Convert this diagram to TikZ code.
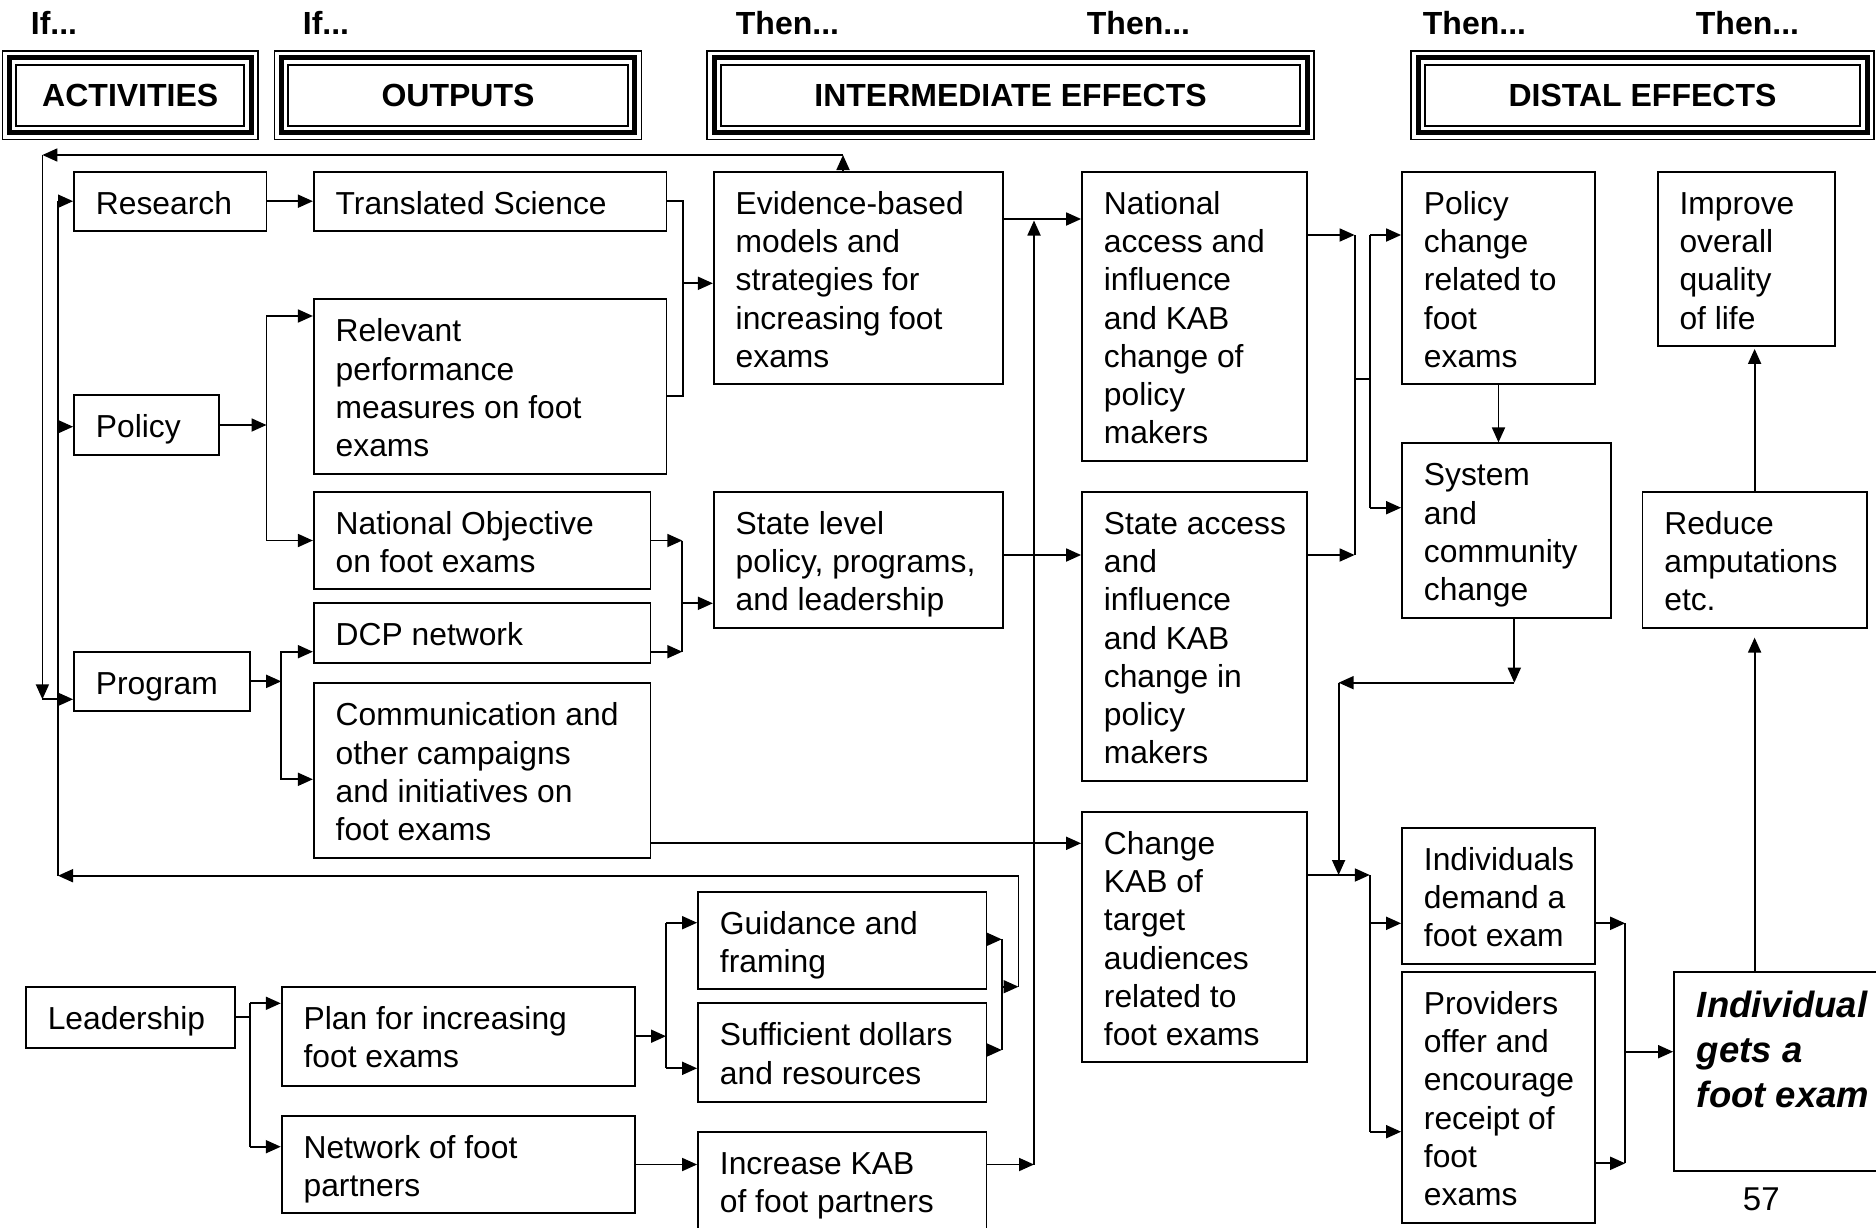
\documentclass[tikz,border=0pt]{standalone}
\usepackage{fontspec}
\setmainfont{Liberation Sans}
\usetikzlibrary{arrows.meta,fit}

\newcommand{\bodyf}{\fontsize{31.8}{38.3}\selectfont}
\newcommand{\headf}{\fontsize{32}{38}\selectfont\bfseries}
\newcommand{\keyf}{\fontsize{36.5}{45}\selectfont\bfseries\itshape}

% plain box with top-left text: name, x1, y1, x2, y2, text
\newcommand{\bx}[6]{%
  \node[box, fit={(#2,#3) (#4,#5)}] (#1) {};
  \node[txt] (#1-t) at (#2+21,#3+14.7) {\strut #6};
}
% column heading with a triple frame: name, x1, y1, x2, y2, text
\newcommand{\hd}[6]{%
  \node[box, line width=1.5pt, fit={(#2,#3) (#4,#5)}] (#1) {};
  \draw[line width=5pt] (#2+7,#3+7) rectangle (#4-7,#5-7);
  \draw[line width=2pt] (#2+13.7,#3+13.7) rectangle (#4-13.7,#5-13.7);
  \node[hdtxt] (#1-t) at (#1.center) {#6};
}

\begin{document}
\begin{tikzpicture}[x=1pt,y=-1pt,line width=1.8pt,
  box/.style={draw, rectangle, inner sep=0pt, line width=1.8pt},
  txt/.style={anchor=north west, inner sep=0pt, align=left, font=\bodyf},
  hdtxt/.style={inner sep=0pt, font=\headf},
  cue/.style={anchor=base west, inner sep=0pt, font=\headf},
  arr/.style={-{Triangle[length=15pt,width=13pt]}}]

\useasboundingbox (0,0) rectangle (1876,1228);
\fill[white] (0,0) rectangle (1876,1228);
\clip (0,0) rectangle (1876,1228);

% ---------- column cues and headings ----------
\node[cue] (c1) at (30,35) {If...};
\node[cue] (c2) at (302,35) {If...};
\node[cue] (c3) at (735,35) {Then...};
\node[cue] (c4) at (1086,35) {Then...};
\node[cue] (c5) at (1422,35) {Then...};
\node[cue] (c6) at (1695,35) {Then...};

\hd{act}{2.5}{51}{258}{139.5}{ACTIVITIES}
\hd{outp}{274.5}{51}{641.5}{139.5}{OUTPUTS}
\hd{inter}{707}{51}{1314}{139.5}{INTERMEDIATE EFFECTS}
\hd{dist}{1411}{51}{1874}{139.5}{DISTAL EFFECTS}

% ---------- activities ----------
\bx{res}{74}{171.7}{266.5}{230.7}{Research}
\bx{pol}{74}{395}{219}{455}{Policy}
\bx{prog}{74}{651.7}{250}{711}{Program}
\bx{lead}{25.9}{986.7}{234.8}{1047.7}{Leadership}

% ---------- outputs ----------
\bx{tsci}{313.8}{171.7}{666.5}{230.7}{Translated Science}
\bx{relev}{313.8}{299.3}{666.5}{474.3}{Relevant\\performance\\measures on foot\\exams}
\bx{natobj}{313.8}{491.7}{650.4}{589.3}{National Objective\\on foot exams}
\bx{dcp}{313.8}{603.3}{650.4}{663.3}{DCP network}
\bx{comm}{313.8}{683.3}{650.4}{858.3}{Communication and\\other campaigns\\and initiatives on\\foot exams}
\bx{plan}{281.7}{986.7}{634.8}{1085.7}{Plan for increasing\\foot exams}
\bx{netw}{281.7}{1115.7}{634.8}{1213.3}{Network of foot\\partners}
\bx{guid}{698}{891.7}{986.5}{989.3}{Guidance and\\framing}
\bx{suff}{698}{1003.3}{986.5}{1101.7}{Sufficient dollars\\and resources}
\bx{inckab}{698}{1131.7}{986.5}{1250}{Increase KAB\\of foot partners}

% ---------- intermediate effects ----------
\bx{ev}{713.8}{171.7}{1003}{384.3}{Evidence-based\\models and\\strategies for\\increasing foot\\exams}
\bx{stlev}{713.8}{491.7}{1002.7}{627.7}{State level\\policy, programs,\\and leadership}
\bx{natacc}{1082}{171.7}{1306.7}{460.7}{National\\access and\\influence\\and KAB\\change of\\policy\\makers}
\bx{stacc}{1082}{491.7}{1306.7}{781}{State access\\and\\influence\\and KAB\\change in\\policy\\makers}
\bx{chkab}{1082}{811.7}{1306.7}{1062.3}{Change\\KAB of\\target\\audiences\\related to\\foot exams}

% ---------- distal effects ----------
\bx{polch}{1402}{171.7}{1595}{384.3}{Policy\\change\\related to\\foot\\exams}
\bx{sys}{1402}{443.3}{1610.9}{618.3}{System\\and\\community\\change}
\bx{indem}{1402}{827.7}{1595}{964}{Individuals\\demand a\\foot exam}
\bx{prov}{1402}{971.7}{1595}{1222.7}{Providers\\offer and\\encourage\\receipt of\\foot\\exams}
\bx{imp}{1657.6}{171.7}{1834.9}{346}{Improve\\overall\\quality\\of life}
\bx{red}{1642.4}{491.7}{1866.8}{627.7}{Reduce\\amputations\\etc.}
\node[box, fit={(1674,971.7) (1900,1171)}] (indiv) {};
\node[txt, font=\keyf] (indiv-t) at (1696,985.2) {\strut Individual\\gets a\\foot exam};

\node[anchor=base west, inner sep=0pt, font=\fontsize{33}{38}\selectfont] (pg) at (1742,1210) {57};

% ---------- bus lines ----------
\coordinate (pbx) at (266.5,0);
\coordinate (gbx) at (281.2,0);
\coordinate (tbx) at (683,0);
\coordinate (sbx) at (682.3,0);
\coordinate (kbx) at (1034,0);
\coordinate (dbx) at (1354.6,0);
\coordinate (ebx) at (1369.8,0);
\coordinate (hbx) at (1625.2,0);
\coordinate (lbx) at (250,0);
\coordinate (mbx) at (666,0);
\coordinate (nbx) at (1001.8,0);

% research / policy / program
\draw[arr] (res.east) -- (tsci.west);
\draw[arr] (pol.east) -- (pol.east -| pbx);
\draw[arr] (pol.east -| pbx) |- (relev.west |- 0,316);
\draw[arr] (pol.east -| pbx) |- (natobj.west);
\draw[arr] (prog.east) -- (prog.east -| gbx);
\draw[arr] (prog.east -| gbx) |- (dcp.west |- 0,651.7);
\draw[arr] (prog.east -| gbx) |- (comm.west |- 0,779.3);

% outputs into intermediate effects
\draw (tsci.east) -| (tbx |- 0,395.7) -- (relev.east |- 0,395.7);
\draw[arr] (tbx |- 0,283.3) -- (ev.west |- 0,283.3);
\draw[arr] (natobj.east) -- (natobj.east -| sbx);
\draw[arr] (dcp.east |- 0,651.7) -- (sbx |- 0,651.7);
\draw (natobj.east -| sbx) -- (sbx |- 0,651.7);
\draw[arr] (sbx |- 0,603.3) -- (stlev.west |- 0,603.3);
\draw[arr] (comm.east |- 0,843.3) -- (chkab.west |- 0,843.3);

% leadership branch
\draw (lead.east) -- (lead.east -| lbx);
\draw (lbx |- 0,1003.3) -- (lbx |- 0,1146.7);
\draw[arr] (lbx |- 0,1003.3) -- (plan.west |- 0,1003.3);
\draw[arr] (lbx |- 0,1146.7) -- (netw.west |- 0,1146.7);
\draw[arr] (plan.east) -- (plan.east -| mbx);
\draw (mbx |- 0,922.7) -- (mbx |- 0,1068.3);
\draw[arr] (mbx |- 0,922.7) -- (guid.west |- 0,922.7);
\draw[arr] (mbx |- 0,1068.3) -- (suff.west |- 0,1068.3);
\draw[arr] (netw.east) -- (inckab.west |- netw.east);
\draw[arr] (inckab.east |- netw.east) -- (kbx |- netw.east);
\draw[arr] (kbx |- netw.east) -- (kbx |- 0,220.5);

% intermediate effects
\draw[arr] (ev.east |- 0,219) -- (natacc.west |- 0,219);
\draw[arr] (stlev.east |- 0,555) -- (stacc.west |- 0,555);

% into distal effects
\draw[arr] (natacc.east |- 0,235) -- (dbx |- 0,235);
\draw[arr] (stacc.east |- 0,555) -- (dbx |- 0,555);
\draw (dbx |- 0,235) -- (dbx |- 0,555);
\draw (dbx |- 0,379.3) -- (ebx |- 0,379.3);
\draw (ebx |- 0,235) -- (ebx |- 0,507.7);
\draw[arr] (ebx |- 0,235) -- (polch.west |- 0,235);
\draw[arr] (ebx |- 0,507.7) -- (sys.west |- 0,507.7);
\draw[arr] (polch.south) -- (polch.south |- sys.north);

\coordinate (sa) at (1514.3,682.7);
\coordinate (sb) at (1338.6,682.7);
\draw[arr] (sys.south -| sa) -- (sa);
\draw[arr] (sa) -- (sb);
\draw[arr] (sb) -- (sb |- 0,875);

\draw[arr] (chkab.east |- 0,875) -- (ebx |- 0,875);
\draw (ebx |- 0,875) -- (ebx |- 0,1131.7);
\draw[arr] (ebx |- 0,923.3) -- (indem.west |- 0,923.3);
\draw[arr] (ebx |- 0,1131.7) -- (prov.west |- 0,1131.7);

\draw[arr] (indem.east |- 0,923.3) -- (hbx |- 0,923.3);
\draw[arr] (prov.east |- 0,1163.3) -- (hbx |- 0,1163.3);
\draw (hbx |- 0,923.3) -- (hbx |- 0,1163.3);
\draw[arr] (hbx |- 0,1051.7) -- (indiv.west |- 0,1051.7);

\draw[arr] (red.south |- indiv.north) -- ([yshift=-9pt]red.south);
\draw[arr] (red.north) -- ([yshift=-2pt]red.north |- imp.south);

% feedback loops back to the activities
\coordinate (tfa) at (843,155);
\coordinate (tfb) at (42.4,155);
\coordinate (tfc) at (42.4,699.3);
\coordinate (tfd) at (58,699.3);
\coordinate (ilt) at (58,201.2);
\coordinate (ilb) at (58,875.7);
\coordinate (bfr) at (1018.5,875.7);
\coordinate (bfm) at (1018.5,986.7);

\draw[arr] (ev.north -| tfa) -- (tfa);
\draw[arr] (tfa) -- (tfb);
\draw[arr] (tfb) -- (tfc);
\draw (tfc) -- (tfd);
\draw (ilb) -- (ilt);
\draw[arr] (ilt) -- (res.west);
\draw[arr] (ilt |- 0,426.7) -- (pol.west |- 0,426.7);
\draw[arr] (tfd) -- (prog.west |- tfd);

\draw[arr] (guid.east |- 0,939.3) -- (nbx |- 0,939.3);
\draw[arr] (suff.east |- 0,1050) -- (nbx |- 0,1050);
\draw (nbx |- 0,939.3) -- (nbx |- 0,1050);
\draw[arr] (nbx |- bfm) -- (bfm);
\draw[arr] (bfm) -- (bfr) -- (ilb);

\end{tikzpicture}
\end{document}
